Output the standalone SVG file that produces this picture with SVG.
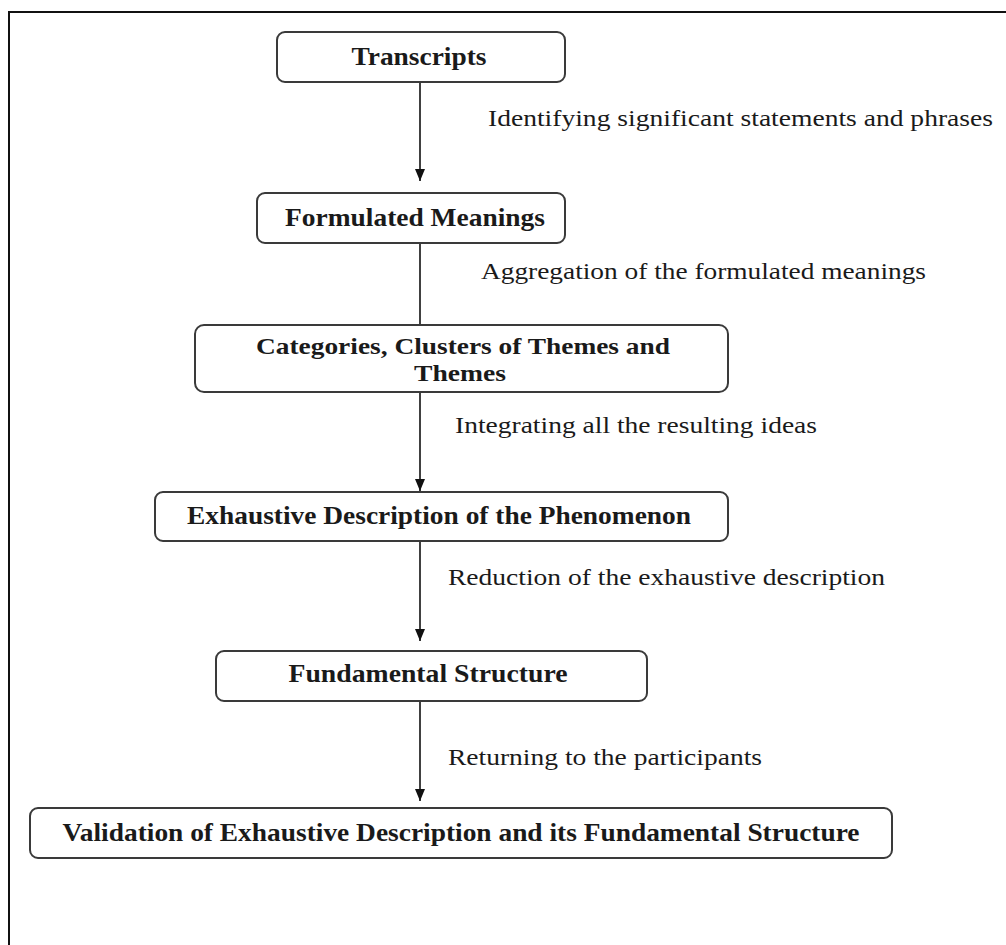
<svg xmlns="http://www.w3.org/2000/svg" width="1006" height="945" viewBox="0 0 1006 945">
<defs>
<style>
.box{fill:#fff;stroke:#3a3a3a;stroke-width:2}
.bt{font-family:"Liberation Serif","Times New Roman",serif;font-weight:bold;font-size:26px;fill:#1a1a1a;text-anchor:middle}
.bt2{font-size:23px}
.lt{font-family:"Liberation Serif","Times New Roman",serif;font-size:24px;fill:#1a1a1a}
.con{stroke:#111;stroke-width:1.6;fill:none}
</style>
<marker id="ah" viewBox="0 0 12 10" refX="12" refY="5" markerWidth="12" markerHeight="10" markerUnits="userSpaceOnUse" orient="auto">
<path d="M0,0 L12,5 L0,10 Z" fill="#111"/>
</marker>
</defs>
<rect width="1006" height="945" fill="#fff"/>
<path d="M9,945 V12 H1006" fill="none" stroke="#111" stroke-width="2"/>
<g id="connectors">
<line class="con" x1="420" y1="82" x2="420" y2="181" marker-end="url(#ah)"/>
<line class="con" x1="420" y1="243" x2="420" y2="325"/>
<line class="con" x1="420" y1="392" x2="420" y2="491" marker-end="url(#ah)"/>
<line class="con" x1="420" y1="541" x2="420" y2="641" marker-end="url(#ah)"/>
<line class="con" x1="420" y1="701" x2="420" y2="801" marker-end="url(#ah)"/>
</g>
<g id="labels">
<text class="lt" x="488" y="126" textLength="505" lengthAdjust="spacingAndGlyphs">Identifying significant statements and phrases</text>
<text class="lt" x="481" y="279" textLength="445" lengthAdjust="spacingAndGlyphs">Aggregation of the formulated meanings</text>
<text class="lt" x="455" y="433" textLength="362" lengthAdjust="spacingAndGlyphs">Integrating all the resulting ideas</text>
<text class="lt" x="448" y="585" textLength="437" lengthAdjust="spacingAndGlyphs">Reduction of the exhaustive description</text>
<text class="lt" x="448" y="765" textLength="314" lengthAdjust="spacingAndGlyphs">Returning to the participants</text>
</g>
<g id="n-transcripts">
<rect class="box" x="277" y="32" width="288" height="50" rx="8"/>
<text class="bt" x="419" y="65" textLength="135" lengthAdjust="spacingAndGlyphs">Transcripts</text>
</g>
<g id="n-formulated">
<rect class="box" x="257" y="193" width="308" height="50" rx="8"/>
<text class="bt" x="415" y="226" textLength="260" lengthAdjust="spacingAndGlyphs">Formulated Meanings</text>
</g>
<g id="n-categories">
<rect class="box" x="195" y="325" width="533" height="67" rx="9"/>
<text class="bt bt2" x="463" y="354" textLength="414" lengthAdjust="spacingAndGlyphs">Categories, Clusters of Themes and</text>
<text class="bt bt2" x="460" y="381" textLength="92" lengthAdjust="spacingAndGlyphs">Themes</text>
</g>
<g id="n-exhaustive">
<rect class="box" x="155" y="492" width="573" height="49" rx="8"/>
<text class="bt" x="439" y="524" textLength="504" lengthAdjust="spacingAndGlyphs">Exhaustive Description of the Phenomenon</text>
</g>
<g id="n-fundamental">
<rect class="box" x="216" y="651" width="431" height="50" rx="8"/>
<text class="bt" x="428" y="682" textLength="279" lengthAdjust="spacingAndGlyphs">Fundamental Structure</text>
</g>
<g id="n-validation">
<rect class="box" x="30" y="808" width="862" height="50" rx="8"/>
<text class="bt" x="461" y="841" textLength="797" lengthAdjust="spacingAndGlyphs">Validation of Exhaustive Description and its Fundamental Structure</text>
</g>
</svg>
